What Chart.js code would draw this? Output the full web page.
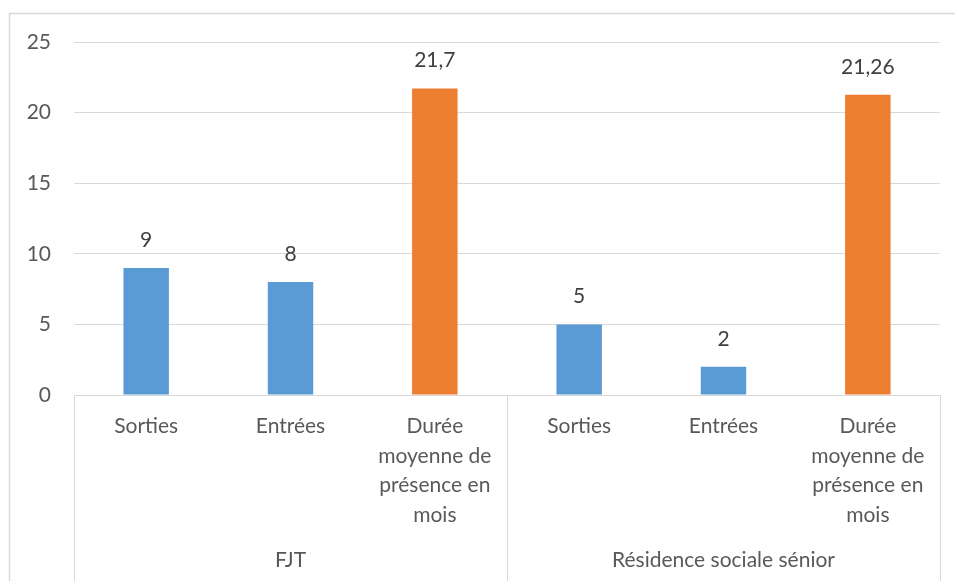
<!DOCTYPE html>
<html>
<head>
<meta charset="utf-8">
<script src="https://cdn.jsdelivr.net/npm/chart.js@4/dist/chart.umd.min.js"></script>
<style>
  html, body { margin: 0; padding: 0; background: #fff; }
  #wrap { width: 955px; height: 581px; position: relative; }
</style>
</head>
<body>
<div id="wrap"><canvas id="chart" width="955" height="581"></canvas></div>
<script>
// categories and values
const categories = [
  ["Sorties"],
  ["Entrées"],
  ["Durée", "moyenne de", "présence en", "mois"],
  ["Sorties"],
  ["Entrées"],
  ["Durée", "moyenne de", "présence en", "mois"],
];
const values = [9, 8, 21.7, 5, 2, 21.26];
const groups = ["FJT", "Résidence sociale sénior"];
const groupSizes = [3, 3];
const yTicks = [0, 5, 10, 15, 20, 25];

const blue = "#5B9BD5";
const orange = "#ED7D31";
const barColors = categories.map((c) => (c[0] === "Durée" ? orange : blue));

const fontFamily = "Lato, 'Open Sans', sans-serif";
const fontSize = 21;

// outer frame + group separators + group labels
const framePlugin = {
  id: "frame",
  beforeDraw(chart) {
    const ctx = chart.ctx;
    ctx.save();
    ctx.strokeStyle = "#d9d9d9";
    ctx.lineWidth = 1.5;
    ctx.strokeRect(9.5, 13.5, 980, 620);
    ctx.restore();
  },
  afterDraw(chart) {
    const ctx = chart.ctx;
    const x = chart.scales.x;
    const area = chart.chartArea;
    const step = x.getPixelForValue(1) - x.getPixelForValue(0);
    ctx.save();
    ctx.strokeStyle = "#d9d9d9";
    ctx.lineWidth = 1;
    let idx = 0;
    const bounds = [];
    bounds.push(x.getPixelForValue(0) - step / 2);
    groupSizes.forEach((n) => {
      idx += n;
      bounds.push(x.getPixelForValue(idx - 1) + step / 2);
    });
    bounds.forEach((b) => {
      ctx.beginPath();
      ctx.moveTo(Math.round(b) + 0.5, area.bottom);
      ctx.lineTo(Math.round(b) + 0.5, 590);
      ctx.stroke();
    });
    ctx.fillStyle = "#595959";
    ctx.font = fontSize + "px " + fontFamily;
    ctx.textAlign = "center";
    ctx.textBaseline = "middle";
    groups.forEach((g, i) => {
      ctx.fillText(g, (bounds[i] + bounds[i + 1]) / 2, 560);
    });
    ctx.restore();
  },
};

// value labels above bars
const labelPlugin = {
  id: "valueLabels",
  afterDatasetsDraw(chart) {
    const ctx = chart.ctx;
    const meta = chart.getDatasetMeta(0);
    ctx.save();
    ctx.fillStyle = "#404040";
    ctx.font = fontSize + "px " + fontFamily;
    ctx.textAlign = "center";
    ctx.textBaseline = "middle";
    meta.data.forEach((bar, i) => {
      const txt = String(values[i]).replace(".", ",");
      ctx.fillText(txt, bar.x, bar.y - 28);
    });
    ctx.restore();
  },
};

new Chart(document.getElementById("chart"), {
  type: "bar",
  data: {
    labels: categories,
    datasets: [
      {
        data: values,
        backgroundColor: barColors,
        borderWidth: 0,
        categoryPercentage: 1,
        barPercentage: 0.315,
      },
    ],
  },
  options: {
    responsive: false,
    animation: false,
    layout: { padding: { top: 42, right: 15, left: 0, bottom: 0 } },
    plugins: { legend: { display: false }, tooltip: { enabled: false } },
    scales: {
      x: {
        grid: { display: false },
        border: { color: "#d9d9d9", width: 1 },
        ticks: {
          color: "#595959",
          font: { family: fontFamily, size: fontSize, lineHeight: 1.4 },
          maxRotation: 0,
          autoSkip: false,
          padding: 9,
        },
        afterFit(scale) {
          scale.height = 186;
        },
      },
      y: {
        min: 0,
        max: 25,
        afterBuildTicks(scale) {
          scale.ticks = yTicks.map((v) => ({ value: v }));
        },
        grid: { color: "#d9d9d9", lineWidth: 1, drawTicks: false },
        border: { display: false },
        ticks: {
          color: "#595959",
          font: { family: fontFamily, size: fontSize },
          padding: 23,
        },
        afterFit(scale) {
          scale.width = 74;
        },
      },
    },
  },
  plugins: [framePlugin, labelPlugin],
});
</script>
</body>
</html>
